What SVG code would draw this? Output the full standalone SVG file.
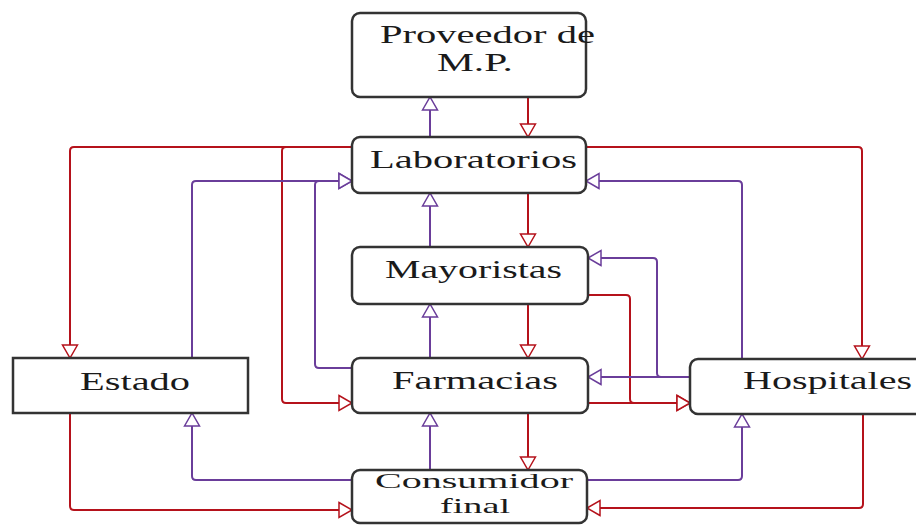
<svg xmlns="http://www.w3.org/2000/svg" width="916" height="525" viewBox="0 0 916 525">
<style>
.box{fill:#fff;stroke:#333;stroke-width:2.5}
.t{font-family:"Liberation Serif","Times New Roman",serif;font-size:25px;fill:#1a1a1a}
.s{font-size:21px}
.r{fill:none;stroke:#b5121b;stroke-width:2}
.p{fill:none;stroke:#6a3d9a;stroke-width:2}
.r{marker-end:url(#ar)}
.p{marker-end:url(#ap)}
</style>
<defs>
<marker id="ar" markerUnits="userSpaceOnUse" markerWidth="16" markerHeight="18" refX="14" refY="9" orient="auto" viewBox="0 0 16 18">
<path d="M1,1.5 L14,9 L1,16.5 z" fill="#fff" stroke="#b5121b" stroke-width="1.5"/>
</marker>
<marker id="ap" markerUnits="userSpaceOnUse" markerWidth="16" markerHeight="18" refX="14" refY="9" orient="auto" viewBox="0 0 16 18">
<path d="M1,1.5 L14,9 L1,16.5 z" fill="#fff" stroke="#6a3d9a" stroke-width="1.5"/>
</marker>
</defs>
<rect width="916" height="525" fill="#fff"/>
<g id="connectors">
<path class="r" d="M528,97 V137"/>
<path class="r" d="M528,193 V247"/>
<path class="r" d="M528,304 V358"/>
<path class="r" d="M528,413 V470"/>
<path class="r" d="M352,147 H74 Q70,147 70,151 V358"/>
<path class="r" d="M352,147 H286 Q282,147 282,151 V399 Q282,403 286,403 H352"/>
<path class="r" d="M586,147 H858 Q862,147 862,151 V359"/>
<path class="r" d="M588,295 H626 Q630,295 630,299 V399 Q630,403 634,403 H690"/>
<path class="r" d="M588,403 H690"/>
<path class="r" d="M70,413 V506 Q70,510 74,510 H352"/>
<path class="r" d="M863,414 V504 Q863,508 859,508 H587"/>
<path class="p" d="M430,137 V97"/>
<path class="p" d="M430,247 V193"/>
<path class="p" d="M430,358 V304"/>
<path class="p" d="M430,470 V413"/>
<path class="p" d="M192,358 V185 Q192,181 196,181 H352"/>
<path class="p" d="M352,368 H319 Q315,368 315,364 V185 Q315,181 319,181 H352"/>
<path class="p" d="M742,359 V185 Q742,181 738,181 H586"/>
<path class="p" d="M690,377 H661 Q657,377 657,373 V262 Q657,258 653,258 H588"/>
<path class="p" d="M690,377 H588"/>
<path class="p" d="M352,480 H196 Q192,480 192,476 V413"/>
<path class="p" d="M587,480 H738 Q742,480 742,476 V414"/>
</g>
<g id="proveedor">
<rect class="box" x="352" y="13" width="234" height="84" rx="8"/>
<text class="t" x="380" y="43" textLength="215" lengthAdjust="spacingAndGlyphs">Proveedor de</text>
<text class="t" x="437" y="71" textLength="76" lengthAdjust="spacingAndGlyphs">M.P.</text>
</g>
<g id="laboratorios">
<rect class="box" x="352" y="137" width="234" height="56" rx="8"/>
<text class="t" x="370" y="168" textLength="207" lengthAdjust="spacingAndGlyphs">Laboratorios</text>
</g>
<g id="mayoristas">
<rect class="box" x="352" y="247" width="236" height="57" rx="8"/>
<text class="t" x="385" y="278" textLength="177" lengthAdjust="spacingAndGlyphs">Mayoristas</text>
</g>
<g id="farmacias">
<rect class="box" x="352" y="358" width="236" height="55" rx="8"/>
<text class="t" x="392" y="389" textLength="166" lengthAdjust="spacingAndGlyphs">Farmacias</text>
</g>
<g id="consumidor">
<rect class="box" x="352" y="470" width="235" height="53" rx="8"/>
<text class="t s" x="375" y="488" textLength="198" lengthAdjust="spacingAndGlyphs">Consumidor</text>
<text class="t s" x="440" y="513" textLength="70" lengthAdjust="spacingAndGlyphs">final</text>
</g>
<g id="estado">
<rect class="box" x="13" y="358" width="235" height="55"/>
<text class="t" x="80" y="390" textLength="110" lengthAdjust="spacingAndGlyphs">Estado</text>
</g>
<g id="hospitales">
<rect class="box" x="690" y="359" width="240" height="55" rx="8"/>
<text class="t" x="743" y="389" textLength="169" lengthAdjust="spacingAndGlyphs">Hospitales</text>
</g>
</svg>
